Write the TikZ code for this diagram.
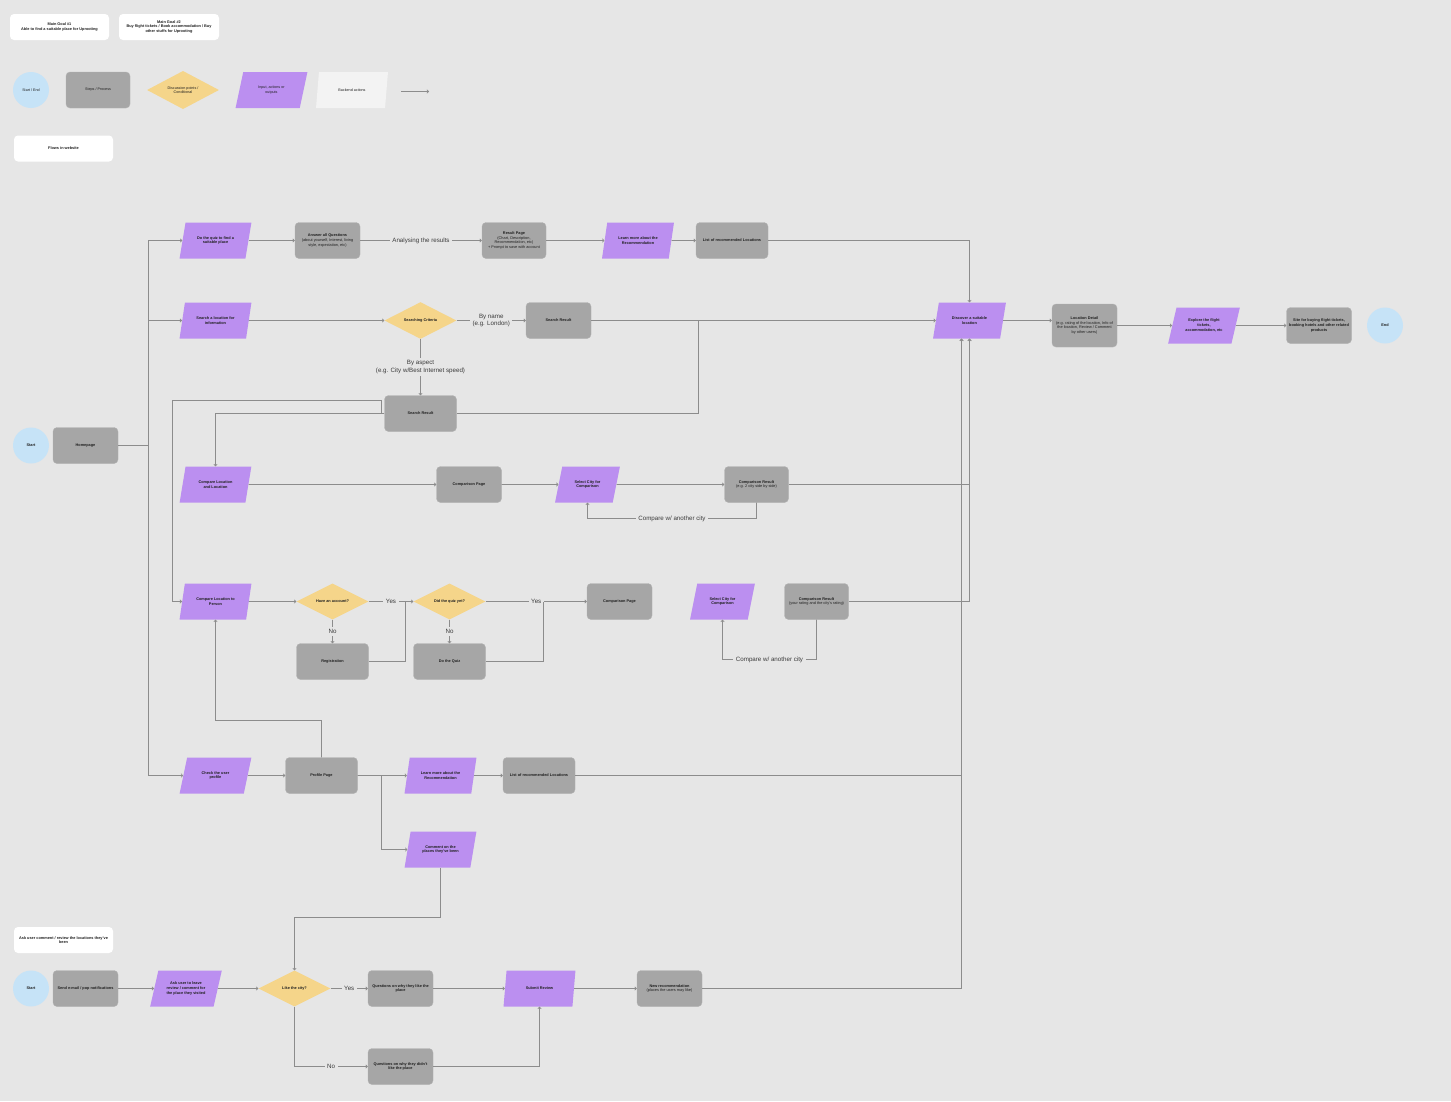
\documentclass[tikz,border=0pt]{standalone}
\usepackage{fontspec}
\setmainfont{Liberation Sans}
\usetikzlibrary{
  positioning,
  shapes.geometric,
  arrows.meta,
}
\definecolor{canvas}{HTML}{E6E6E6}
\definecolor{fillStep}{HTML}{A6A6A6}
\definecolor{edgeStep}{HTML}{B2B2B2}
\definecolor{fillInput}{HTML}{BB8FF0}
\definecolor{fillCond}{HTML}{F5D58A}
\definecolor{fillTerm}{HTML}{C6E3F7}
\definecolor{fillBack}{HTML}{F3F3F3}
\definecolor{lineCol}{HTML}{8C8C8C}
\definecolor{textMain}{HTML}{1F1F1F}
\definecolor{textSub}{HTML}{3B3B3B}
\newcommand{\subline}[1]{{\mdseries #1}}
\tikzset{
  boxfont/.style={font=\fontsize{3.85}{4.7}\selectfont\bfseries},
  legendfont/.style={font=\fontsize{3.7}{4.6}\selectfont},
  stepbox/.style={
    rectangle, rounded corners=4pt, draw=edgeStep, fill=fillStep,
    minimum width=65pt, minimum height=36pt, align=center,
    boxfont, text=textMain, inner sep=1pt, line width=0.4pt,
  },
  inputbox/.style={
    trapezium, trapezium left angle=66, trapezium right angle=114,
    trapezium stretches=true, fill=fillInput, draw=none,
    minimum width=72pt, minimum height=36pt, align=center,
    boxfont, text=textMain, inner sep=0pt,
  },
  condbox/.style={
    diamond, fill=fillCond, minimum width=72pt, minimum height=36pt,
    align=center, boxfont, text=textMain, inner sep=0pt,
  },
  termbox/.style={
    circle, fill=fillTerm, minimum size=36pt, boxfont, text=textMain, inner sep=0pt,
  },
  notebox/.style={
    rectangle, rounded corners=4pt, fill=white, minimum width=99pt,
    minimum height=26pt, align=center, boxfont, text=textMain, inner sep=1pt,
  },
  arrow/.style={-{Straight Barb[length=1.6pt, width=3.4pt]}, lineCol, line width=0.7pt},
  link/.style={lineCol, line width=0.7pt},
  edgetext/.style={fill=canvas, font=\fontsize{6.2}{7.4}\selectfont, text=textSub, inner sep=2.5pt, align=center},
}

\begin{document}
\begin{tikzpicture}[x=1pt, y=-1pt]

  \fill[canvas] (0,0) rectangle (1451,1101);

  % Goals and legend
  \node[notebox] (goal1) at (59.5,27) {Main Goal \#1\\Able to find a suitable place for Uprooting};
  \node[notebox, minimum width=100pt] (goal2) at (169,27) {Main Goal \#2\\Buy flight tickets / Book accommodation / Buy\\other stuffs for Uprooting};

  \node[termbox, legendfont] (lgTerm) at (31,90) {Start / End};
  \node[stepbox, legendfont, minimum width=64pt] (lgStep) at (98,90) {Steps / Process};
  \node[condbox, legendfont] (lgCond) at (183,90) {Discussion points /\\Conditional};
  \node[inputbox, legendfont] (lgInput) at (271.5,90) {Input, actions or\\outputs};
  \node[inputbox, legendfont, fill=fillBack] (lgBack) at (352,90) {Backend actions};
  \coordinate (lgA) at (401,91.5);
  \coordinate (lgB) at (429,91.5);
  \draw[arrow] (lgA) -- (lgB);

  \node[notebox] (flows) at (63.5,148.5) {Flows in website};

  % Goal side
  \node[inputbox, minimum width=73pt] (disc) at (969.5,320.5) {Discover a suitable\\location};
  \node[stepbox, minimum height=43pt] (loc) at (1084.5,325.5) {Location Detail\\\subline{(e.g. rating of the location, Info of}\\\subline{the location, Review / Comment}\\\subline{by other users)}};
  \node[inputbox] (explore) at (1204,325.5) {Explore the flight\\tickets,\\accommodation, etc};
  \node[stepbox] (site) at (1319,325.5) {Site for buying flight tickets,\\booking hotels and other related\\products};
  \node[termbox] (finish) at (1385,325.5) {End};
  \draw[arrow] (disc) -- (disc -| loc.west);
  \draw[arrow] (loc) -- (explore);
  \draw[arrow] (explore) -- (site);

  % Entry
  \node[termbox] (start) at (31,445.5) {Start};
  \node[stepbox] (home) at (85.5,445.5) {Homepage};
  \coordinate (trunk) at (148.5,445.5);
  \draw[link] (home) -- (trunk);

  % Quiz flow
  \node[inputbox] (quiz) at (215.5,240.5) {Do the quiz to find a\\suitable place};
  \node[stepbox] (ans) at (327.5,240.5) {Answer all Questions\\\subline{(about yourself, Interest, living}\\\subline{style, expectation, etc)}};
  \node[stepbox, minimum width=64pt] (res) at (514,240.5) {Result Page\\\subline{(Chart, Description,}\\\subline{Recommendation, etc)}\\\subline{+ Prompt to save with account}};
  \node[inputbox] (learnA) at (638,240.5) {Learn more about the\\Recommendation};
  \node[stepbox, minimum width=72pt] (listA) at (732,240.5) {List of recommended Locations};
  \draw[arrow] (trunk) |- (quiz.west);
  \draw[arrow] (quiz) -- (ans);
  \draw[arrow] (ans) -- node[edgetext] {Analysing the results} (res);
  \draw[arrow] (res) -- (learnA);
  \draw[arrow] (learnA) -- (listA);
  \draw[arrow] (listA.east) -| (disc.north);

  % Search flow
  \node[inputbox] (search) at (215.5,320.5) {Search a location for\\information};
  \node[condbox] (crit) at (420.5,320.5) {Searching Criteria};
  \node[stepbox] (resA) at (558.5,320.5) {Search Result};
  \node[stepbox, minimum width=72pt] (resB) at (420.5,413.5) {Search Result};
  \coordinate (joinA) at (698.5,320.5);
  \draw[arrow] (trunk) |- (search.west);
  \draw[arrow] (search) -- (crit);
  \draw[arrow] (crit) -- node[edgetext] {By name\\(e.g. London)} (resA);
  \draw[arrow] (crit) -- node[edgetext] {By aspect\\(e.g. City w/Best Internet speed)} (resB);
  \draw[arrow] (resA) -- (disc);
  \draw[link] (resB) -| (joinA);

  % Compare location and location
  \node[inputbox] (cll) at (215.5,484.5) {Compare Location\\and Location};
  \node[stepbox] (pageA) at (469,484.5) {Comparison Page};
  \node[inputbox, minimum width=65pt] (cityA) at (587.5,484.5) {Select City for\\Comparison};
  \node[stepbox, minimum width=64pt] (resultA) at (756.5,484.5) {Comparison Result\\\subline{(e.g. 2 city side by side)}};
  \coordinate (loopC) at (587.5,518.5);
  \draw[arrow] (resB.west) -| (cll.north);
  \draw[arrow] (cll) -- (pageA);
  \draw[arrow] (pageA) -- (cityA);
  \draw[arrow] (cityA) -- (resultA);
  \draw[arrow] (resultA.south) |- node[edgetext, pos=0.75] {Compare w/ another city} (loopC) -- (cityA.south);
  \draw[arrow] (resultA.east) -| (disc.south);

  % Compare location to person
  \node[inputbox] (cltp) at (215.5,601.5) {Compare Location to\\Person};
  \node[condbox] (acct) at (332.5,601.5) {Have an account?};
  \node[condbox] (quizDone) at (449.5,601.5) {Did the quiz yet?};
  \node[stepbox, minimum width=72pt] (reg) at (332.5,661.5) {Registration};
  \node[stepbox, minimum width=72pt] (doQuiz) at (449.5,661.5) {Do the Quiz};
  \node[stepbox] (pageB) at (619.5,601.5) {Comparison Page};
  \node[inputbox, minimum width=65pt] (cityB) at (722.5,601.5) {Select City for\\Comparison};
  \node[stepbox, minimum width=64pt] (resultB) at (816.5,601.5) {Comparison Result\\\subline{(your rating and the city's rating)}};
  \coordinate (loopA) at (381.5,400.5);
  \coordinate (loopB) at (172.5,400.5);
  \coordinate (joinB) at (405.5,601.5);
  \coordinate (joinC) at (543.5,601.5);
  \coordinate (loopD) at (722.5,659.5);
  \draw[arrow] (resB.west) -| (loopA) -- (loopB) |- (cltp.west);
  \draw[arrow] (cltp) -- (acct);
  \draw[arrow] (acct) -- node[edgetext] {Yes} (quizDone);
  \draw[arrow] (acct) -- node[edgetext] {No} (reg);
  \draw[arrow] (quizDone) -- node[edgetext] {Yes} (pageB);
  \draw[arrow] (quizDone) -- node[edgetext] {No} (doQuiz);
  \draw[link] (reg) -| (joinB);
  \draw[link] (doQuiz) -| (joinC);
  \draw[arrow] (resultB.south) |- node[edgetext, pos=0.75] {Compare w/ another city} (loopD) -- (cityB.south);
  \draw[arrow] (resultB.east) -| (disc.south);

  % Profile flow
  \node[inputbox] (chk) at (215.5,775.5) {Check the user\\profile};
  \node[stepbox, minimum width=72pt] (prof) at (321.5,775.5) {Profile Page};
  \node[inputbox] (learnB) at (440.5,775.5) {Learn more about the\\Recommendation};
  \node[stepbox, minimum width=72pt] (listB) at (539,775.5) {List of recommended Locations};
  \node[inputbox] (cmt) at (440.5,849.5) {Comment on the\\places they've been};
  \coordinate (forkA) at (381.5,775.5);
  \coordinate (upA) at (321.5,720.5);
  \coordinate (upB) at (215.5,720.5);
  \draw[arrow] (trunk) |- (chk.west);
  \draw[arrow] (chk) -- (prof);
  \draw[arrow] (prof) -- (learnB);
  \draw[arrow] (learnB) -- (listB);
  \draw[arrow] (listB.east) -| ([xshift=-8pt]disc.south);
  \draw[arrow] (forkA) |- (cmt.west);
  \draw[arrow] (prof.north) -- (upA) -- (upB) -- (cltp.south);

  % Review flow
  \node[notebox] (askNote) at (63.5,940) {Ask user comment / review the locations they've\\been};
  \node[termbox] (startB) at (31,988.5) {Start};
  \node[stepbox] (send) at (85.5,988.5) {Send e-mail / pop notifications};
  \node[inputbox] (ask) at (186,988.5) {Ask user to leave\\review / comment for\\the place they visited};
  \node[condbox] (like) at (294.5,988.5) {Like the city?};
  \node[stepbox] (whyYes) at (400.5,988.5) {Questions on why they like the\\place};
  \node[stepbox] (whyNo) at (400.5,1066.5) {Questions on why they didn't\\like the place};
  \node[inputbox] (submit) at (539.5,988.5) {Submit Review};
  \node[stepbox] (newRec) at (669.5,988.5) {New recommendation\\\subline{(places the users may like)}};
  \coordinate (dropA) at (294.5,917.5);
  \draw[arrow] (cmt.south) |- (dropA) -- (like.north);
  \draw[arrow] (send) -- (ask);
  \draw[arrow] (ask) -- (like);
  \draw[arrow] (like) -- node[edgetext] {Yes} (whyYes);
  \draw[arrow] (like.south) |- node[edgetext, pos=0.75] {No} (whyNo.west);
  \draw[arrow] (whyYes) -- (submit);
  \draw[arrow] (whyNo.east) -| (submit.south);
  \draw[arrow] (submit) -- (newRec);
  \draw[arrow] (newRec.east) -| ([xshift=-8pt]disc.south);

\end{tikzpicture}
\end{document}
